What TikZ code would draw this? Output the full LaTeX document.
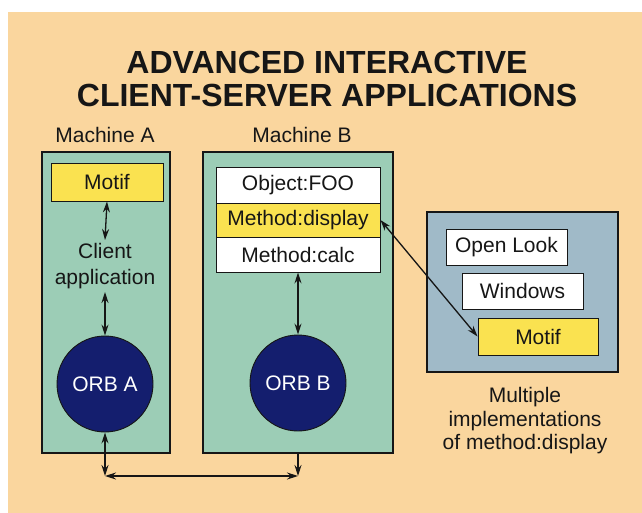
\documentclass[tikz,border=0pt]{standalone}
\usepackage{fontspec}
\setmainfont{Liberation Sans}
\usetikzlibrary{arrows.meta}

\definecolor{paper}{RGB}{250,214,158}
\definecolor{machfill}{RGB}{156,205,182}
\definecolor{implfill}{RGB}{160,186,200}
\definecolor{motifyellow}{RGB}{250,226,80}
\definecolor{orbblue}{RGB}{20,30,110}
\definecolor{ink}{RGB}{22,22,22}

\tikzset{
  machine/.style={draw=ink, line width=1.1pt, fill=machfill, inner sep=0pt},
  panel/.style={draw=ink, line width=1.1pt, fill=implfill, inner sep=0pt},
  slot/.style={draw=ink, line width=0.9pt, fill=white, inner sep=0pt},
  yslot/.style={slot, fill=motifyellow},
  orb/.style={circle, draw=ink, line width=0.9pt, fill=orbblue, text=white, minimum size=96pt, inner sep=0pt},
  link/.style={line width=1.3pt, draw=ink, {Stealth[length=11pt,width=7pt]}-{Stealth[length=11pt,width=7pt]}},
  onelink/.style={line width=1.3pt, draw=ink, -{Stealth[length=11pt,width=7pt]}}
}

\begin{document}
\begin{tikzpicture}[x=1pt, y=-1pt, every node/.style={font=\fontsize{21}{24}\selectfont, text=ink}]

\useasboundingbox (0,0) rectangle (642,513);
\fill[paper] (8,12) rectangle (642,513);

% ----------------------------------------------------
% Title
% ----------------------------------------------------
\node[align=center, font=\bfseries\fontsize{32}{33}\selectfont] (title) at (327,79)
  {ADVANCED INTERACTIVE\\CLIENT-SERVER APPLICATIONS};

% ----------------------------------------------------
% Machine A
% ----------------------------------------------------
\node (labA) at (105,135) {Machine A};
\node[machine, minimum width=128pt, minimum height=301pt] (boxA) at (106,302.5) {};

\node[yslot, minimum width=112pt, minimum height=38pt] (motifA) at (107,182) {Motif};
\node[align=center, font=\fontsize{21}{26}\selectfont, inner sep=3pt] (client) at (105,266) {Client\\application};
\node[orb] (orbA) at (105,384) {ORB A};

\draw[link] (motifA.south) -- (client.north);
\draw[link] (client.south) -- (orbA.north);

% ----------------------------------------------------
% Machine B
% ----------------------------------------------------
\node (labB) at (302,135) {Machine B};
\node[machine, minimum width=190pt, minimum height=301pt] (boxB) at (298,302.5) {};

\node[slot, minimum width=164pt, minimum height=36pt] (obj) at (298,185) {Object:FOO};
\node[yslot, minimum width=164pt, minimum height=34pt] (disp) at (298,220) {Method:display};
\node[slot, minimum width=164pt, minimum height=35pt] (calc) at (298,254.5) {Method:calc};
\node[orb] (orbB) at (298,383) {ORB B};

\draw[link] (calc.south) -- (orbB.north);

% ----------------------------------------------------
% Implementations of method:display
% ----------------------------------------------------
\node[panel, minimum width=191pt, minimum height=160pt] (impl) at (522.5,292) {};

\node[slot, minimum width=121pt, minimum height=36pt] (openlook) at (506.5,247) {Open Look};
\node[slot, minimum width=121pt, minimum height=36pt] (windows) at (522.5,291) {Windows};
\node[yslot, minimum width=120pt, minimum height=37pt] (motifC) at (538,336.5) {Motif};

\node[align=center, font=\fontsize{21}{23.5}\selectfont] (caption) at (525,421)
  {Multiple\\implementations\\of method:display};

\draw[link] (disp.east) -- (motifC.west);

% ----------------------------------------------------
% Link between the two ORBs
% ----------------------------------------------------
\coordinate (busA) at (105,476);
\coordinate (busB) at (298,476);

\draw[link] (orbA.south) -- (busA);
\draw[onelink] (boxB.south) -- (busB);
\draw[link] (busA) -- (busB);

\end{tikzpicture}
\end{document}
